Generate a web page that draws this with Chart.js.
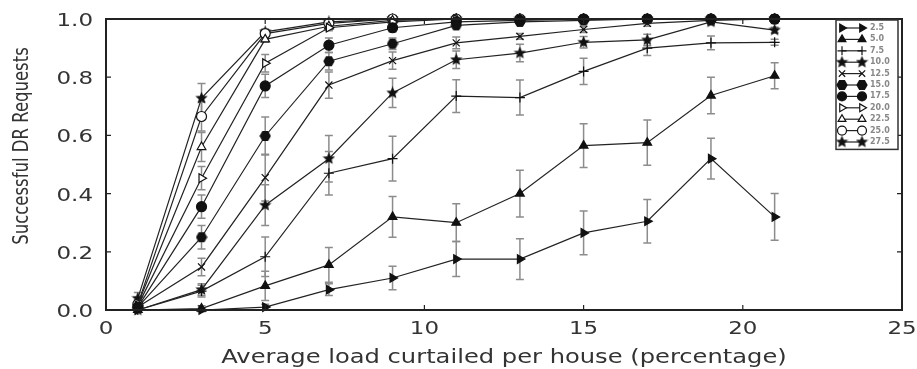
<!DOCTYPE html>
<html>
<head>
<meta charset="utf-8">
<script src="https://cdn.jsdelivr.net/npm/chart.js"></script>
<style>
  body { margin: 0; background: #fff; }
  #wrap { width: 917px; height: 369px; }
</style>
</head>
<body>
<div id="wrap"><canvas id="dr-chart" width="917" height="369"></canvas></div>
<script>
// x positions (load curtailed per house, %)
const loads = [1, 3, 5, 7, 9, 11, 13, 15, 17, 19, 21];
const xTicks = [0, 5, 10, 15, 20, 25];
const yTicks = [0, 0.2, 0.4, 0.6, 0.8, 1.0];
const seriesNames = ["2.5", "5.0", "7.5", "10.0", "12.5", "15.0", "17.5", "20.0", "22.5", "25.0", "27.5"];
const xTitle = "Average load curtailed per house (percentage)";
const yTitle = "Successful DR Requests";

// success rate per series
const s2_5 = [0.0, 0.0, 0.01, 0.07, 0.11, 0.175, 0.175, 0.265, 0.305, 0.52, 0.32];
const s5_0 = [0.0, 0.005, 0.083, 0.155, 0.32, 0.30, 0.40, 0.565, 0.575, 0.737, 0.805];
const s7_5 = [0.0, 0.065, 0.183, 0.47, 0.52, 0.735, 0.73, 0.82, 0.90, 0.918, 0.92];
const s10_0 = [0.0, 0.07, 0.36, 0.52, 0.746, 0.86, 0.883, 0.92, 0.928, 0.99, 0.962];
const s12_5 = [0.01, 0.148, 0.455, 0.773, 0.857, 0.918, 0.94, 0.964, 0.985, 0.995, 1.0];
const s15_0 = [0.01, 0.25, 0.598, 0.855, 0.915, 0.978, 0.99, 0.995, 1.0, 1.0, 1.0];
const s17_5 = [0.01, 0.355, 0.77, 0.91, 0.97, 0.99, 0.995, 1.0, 1.0, 1.0, 1.0];
const s20_0 = [0.015, 0.453, 0.848, 0.97, 0.99, 1.0, 1.0, 1.0, 1.0, 1.0, 1.0];
const s22_5 = [0.02, 0.56, 0.93, 0.975, 0.995, 1.0, 1.0, 1.0, 1.0, 1.0, 1.0];
const s25_0 = [0.02, 0.665, 0.95, 0.985, 1.0, 1.0, 1.0, 1.0, 1.0, 1.0, 1.0];
const s27_5 = [0.04, 0.728, 0.956, 0.99, 1.0, 1.0, 1.0, 1.0, 1.0, 1.0, 1.0];

// +/- error per point
const e2_5 = [0.005, 0.005, 0.01, 0.02, 0.04, 0.06, 0.07, 0.075, 0.075, 0.07, 0.08];
const e5_0 = [0.005, 0.01, 0.05, 0.06, 0.07, 0.065, 0.08, 0.075, 0.078, 0.063, 0.045];
const e7_5 = [0.005, 0.02, 0.068, 0.075, 0.077, 0.056, 0.06, 0.045, 0.025, 0.024, 0.01];
const e10_0 = [0.005, 0.02, 0.07, 0.08, 0.05, 0.03, 0.03, 0.02, 0.02, 0.01, 0.01];
const e12_5 = [0.01, 0.03, 0.08, 0.045, 0.03, 0.02, 0.01, 0.01, 0.01, 0.005, 0.005];
const e15_0 = [0.01, 0.04, 0.065, 0.03, 0.02, 0.01, 0.01, 0.005, 0.005, 0.005, 0.005];
const e17_5 = [0.01, 0.04, 0.04, 0.025, 0.015, 0.005, 0.005, 0.005, 0.005, 0.005, 0.005];
const e20_0 = [0.01, 0.04, 0.03, 0.01, 0.005, 0.005, 0.005, 0.005, 0.005, 0.005, 0.005];
const e22_5 = [0.015, 0.05, 0.01, 0.01, 0.005, 0.005, 0.005, 0.005, 0.005, 0.005, 0.005];
const e25_0 = [0.015, 0.05, 0.01, 0.005, 0.005, 0.005, 0.005, 0.005, 0.005, 0.005, 0.005];
const e27_5 = [0.02, 0.05, 0.01, 0.005, 0.005, 0.005, 0.005, 0.005, 0.005, 0.005, 0.005];

const values = [s2_5, s5_0, s7_5, s10_0, s12_5, s15_0, s17_5, s20_0, s22_5, s25_0, s27_5];
const errors = [e2_5, e5_0, e7_5, e10_0, e12_5, e15_0, e17_5, e20_0, e22_5, e25_0, e27_5];

// filled star / hexagon markers as small canvases
function makeMarker(kind, size) {
  const c = document.createElement("canvas");
  c.width = size; c.height = size;
  const g = c.getContext("2d");
  const r = size / 2;
  g.fillStyle = "#111";
  g.beginPath();
  if (kind === "star") {
    for (let i = 0; i < 10; i++) {
      const rad = i % 2 === 0 ? r : r * 0.45;
      const a = -Math.PI / 2 + i * Math.PI / 5;
      g.lineTo(r + rad * Math.cos(a), r + rad * Math.sin(a));
    }
  } else {
    for (let i = 0; i < 6; i++) {
      const a = i * Math.PI / 3;
      g.lineTo(r + r * 0.95 * Math.cos(a), r + r * 0.95 * Math.sin(a));
    }
  }
  g.closePath();
  g.fill();
  return c;
}
const star = makeMarker("star", 13);
const hexa = makeMarker("hex", 12);

const styles = [
  { pointStyle: "triangle", rotation: 90, fill: "#111" },
  { pointStyle: "triangle", rotation: 0, fill: "#111" },
  { pointStyle: "cross", rotation: 0, fill: "#111" },
  { pointStyle: star, rotation: 0, fill: "#111" },
  { pointStyle: "crossRot", rotation: 0, fill: "#111" },
  { pointStyle: hexa, rotation: 0, fill: "#111" },
  { pointStyle: "circle", rotation: 0, fill: "#111" },
  { pointStyle: "triangle", rotation: 90, fill: "#fff" },
  { pointStyle: "triangle", rotation: 0, fill: "#fff" },
  { pointStyle: "circle", rotation: 0, fill: "#fff" },
  { pointStyle: star, rotation: 0, fill: "#111" },
];

const datasets = values.map((v, i) => ({
  label: seriesNames[i],
  data: loads.map((x, j) => ({ x: x, y: v[j] })),
  errors: errors[i],
  borderColor: "#222",
  borderWidth: 1.2,
  pointStyle: styles[i].pointStyle,
  rotation: styles[i].rotation,
  pointBackgroundColor: styles[i].fill,
  pointBorderColor: "#111",
  pointBorderWidth: 1.2,
  pointRadius: 5,
  tension: 0,
  clip: false,
}));

// the source figure is stretched sideways, so text is drawn a bit wider than tall
const STRETCH = 1.24;
function wideText(ctx, text, x, y, size, align, rotate) {
  ctx.save();
  ctx.translate(x, y);
  if (rotate) {
    ctx.rotate(-Math.PI / 2);
    ctx.scale(1, STRETCH);
  } else {
    ctx.scale(STRETCH, 1);
  }
  ctx.font = size + "px 'DejaVu Sans'";
  ctx.textAlign = align;
  ctx.textBaseline = "alphabetic";
  ctx.fillStyle = "#333";
  ctx.fillText(text, 0, 0);
  ctx.restore();
}

// error bars under the lines; frame, inward ticks, labels and legend on top
const framePlugin = {
  id: "frame",
  beforeDatasetsDraw(chart) {
    const { ctx, scales } = chart;
    ctx.save();
    ctx.strokeStyle = "#8c8c8c";
    ctx.lineWidth = 1.5;
    chart.data.datasets.forEach((ds) => {
      ds.data.forEach((p, j) => {
        const e = ds.errors[j];
        const px = scales.x.getPixelForValue(p.x);
        const y1 = scales.y.getPixelForValue(Math.min(p.y + e, 1.0));
        const y2 = scales.y.getPixelForValue(p.y - e);
        ctx.beginPath();
        ctx.moveTo(px, y1); ctx.lineTo(px, y2);
        ctx.moveTo(px - 4, y1); ctx.lineTo(px + 4, y1);
        ctx.moveTo(px - 4, y2); ctx.lineTo(px + 4, y2);
        ctx.stroke();
      });
    });
    ctx.restore();
  },
  afterDraw(chart) {
    const { ctx, scales } = chart;
    const L = Math.round(scales.x.getPixelForValue(0));
    const R = Math.round(scales.x.getPixelForValue(25));
    const T = Math.round(scales.y.getPixelForValue(1.0));
    const B = Math.round(scales.y.getPixelForValue(0));
    ctx.save();
    ctx.setLineDash([]);
    ctx.strokeStyle = "#222";
    ctx.lineWidth = 2;
    ctx.beginPath();
    ctx.moveTo(L, T); ctx.lineTo(R, T); ctx.lineTo(R, B); ctx.lineTo(L, B); ctx.closePath();
    ctx.stroke();
    ctx.lineWidth = 1.2;
    ctx.beginPath();
    xTicks.forEach((t) => {
      const px = scales.x.getPixelForValue(t);
      ctx.moveTo(px, B); ctx.lineTo(px, B - 5);
      ctx.moveTo(px, T); ctx.lineTo(px, T + 5);
    });
    yTicks.forEach((t) => {
      const py = scales.y.getPixelForValue(t);
      ctx.moveTo(L, py); ctx.lineTo(L + 5, py);
      ctx.moveTo(R, py); ctx.lineTo(R - 5, py);
    });
    ctx.stroke();

    // tick labels and axis titles
    xTicks.forEach((t) => {
      wideText(ctx, String(t), scales.x.getPixelForValue(t), B + 24, 18.5, "center", false);
    });
    yTicks.forEach((t) => {
      wideText(ctx, t.toFixed(1), L - 13, scales.y.getPixelForValue(t) + 7, 18.5, "right", false);
    });
    wideText(ctx, xTitle, (L + R) / 2, B + 53, 19.5, "center", false);
    wideText(ctx, yTitle, 28, 146, 16.5, "center", true);

    // legend box in the top right corner
    const left = 836, top = 20, w = 62, rowH = 11.4;
    ctx.fillStyle = "#fff";
    ctx.fillRect(left, top, w, rowH * 11 + 4);
    ctx.strokeStyle = "#333";
    ctx.lineWidth = 1.5;
    ctx.strokeRect(left, top, w, rowH * 11 + 4);
    ctx.font = "bold 8px 'DejaVu Sans'";
    ctx.textBaseline = "middle";
    seriesNames.forEach((name, i) => {
      const y = top + 8 + i * rowH;
      ctx.strokeStyle = "#222";
      ctx.lineWidth = 1.2;
      ctx.beginPath();
      ctx.moveTo(842, y); ctx.lineTo(862, y);
      ctx.stroke();
      [842, 862].forEach((x) => {
        ctx.fillStyle = styles[i].fill;
        ctx.strokeStyle = "#111";
        Chart.helpers.drawPoint(ctx, {
          pointStyle: styles[i].pointStyle,
          rotation: styles[i].rotation,
          radius: 4.5,
          borderWidth: 1.2,
        }, x, y);
      });
      ctx.fillStyle = "#888";
      ctx.fillText(name, 870, y);
    });
    ctx.restore();
  },
};

const drChart = new Chart(document.getElementById("dr-chart"), {
  type: "line",
  data: { datasets: datasets },
  plugins: [framePlugin],
  options: {
    responsive: false,
    animation: false,
    layout: { padding: { top: 19, right: 15, left: 0, bottom: 0 } },
    plugins: {
      legend: { display: false },
      tooltip: { enabled: false },
    },
    scales: {
      x: {
        type: "linear",
        min: 0,
        max: 25,
        afterFit: (s) => { s.height = 59; s.paddingLeft = 0; s.paddingRight = 0; },
        afterBuildTicks: (s) => { s.ticks = xTicks.map((v) => ({ value: v })); },
        grid: { display: false },
        border: { display: false },
        ticks: { display: false },
      },
      y: {
        min: 0,
        max: 1.0,
        afterFit: (s) => { s.width = 106; s.paddingTop = 0; s.paddingBottom = 0; },
        afterBuildTicks: (s) => { s.ticks = yTicks.map((v) => ({ value: v })); },
        grid: { display: false },
        border: { display: false },
        ticks: { display: false },
      },
    },
  },
});
</script>
</body>
</html>
